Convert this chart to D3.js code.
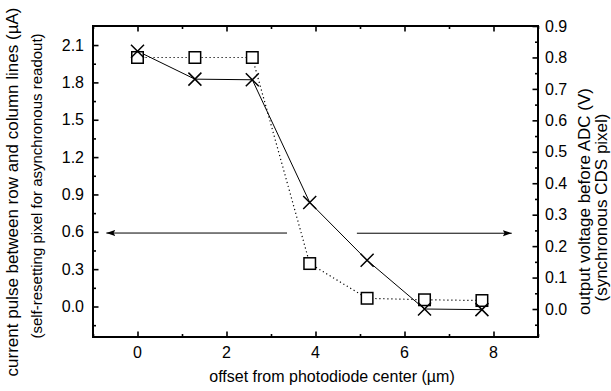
<!DOCTYPE html>
<html><head><meta charset="utf-8">
<script src="https://cdn.jsdelivr.net/npm/d3@7"></script>
<style>body{margin:0;background:#fff}svg{display:block}text{font-family:"Liberation Sans",Arial,sans-serif;fill:#000}</style>
</head><body><svg id="c" width="611" height="391"></svg>
<script>
const xVals = [0, 1.29, 2.58, 3.87, 5.16, 6.45, 7.74];
const currentVals = [2.0, 2.0, 2.0, 0.345, 0.066, 0.054, 0.048]; // squares, left axis (µA)
const voltageVals = [0.82, 0.731, 0.729, 0.339, 0.155, 0.0, -0.002]; // crosses, right axis (V)
const xTicks = [0, 2, 4, 6, 8];
const leftTicks = [0, 0.3, 0.6, 0.9, 1.2, 1.5, 1.8, 2.1];
const rightTicks = [0, 0.1, 0.2, 0.3, 0.4, 0.5, 0.6, 0.7, 0.8, 0.9];
const leftArrow = {y: 0.59, x0: 3.36, x1: -0.70};   // left-axis units
const rightArrow = {y: 0.241, x0: 4.93, x1: 8.41};  // right-axis units

const L = 93, R = 538, T = 26, B = 337;
const svg = d3.select("#c");
const x = d3.scaleLinear().domain([-1, 9]).range([L, R]);
const yL = d3.scaleLinear().domain([-0.245, 2.253]).range([B, T]);
const yR = d3.scaleLinear().domain([-0.089, 0.9]).range([B, T]);

svg.append("defs").append("marker").attr("id","ah").attr("viewBox","0 0 10 10")
  .attr("refX",10).attr("refY",5).attr("markerWidth",9).attr("markerHeight",9)
  .attr("markerUnits","userSpaceOnUse").attr("orient","auto")
  .append("path").attr("d","M0,1.5L10,5L0,8.5L2,5Z").attr("fill","#000");

const range = (a,b,s)=>d3.range(a,b+1e-9,s);
function ax(gen, tr, major, minor){
  const g = svg.append("g").attr("transform", tr);
  g.call(gen.tickValues(minor).tickSize(3).tickFormat(""));
  g.selectAll(".domain").remove();
  const g2 = svg.append("g").attr("transform", tr);
  g2.call(gen.tickValues(major).tickSize(5.5).tickFormat(""));
  g2.selectAll(".domain").remove();
  svg.selectAll("g .tick line").attr("stroke","#000").attr("stroke-width",1.6);
  return g2;
}
const FS = "16px";
// bottom & top
const xMinor = range(-1, 9, 1).filter(v=>v%2!==0);
ax(d3.axisTop(x), `translate(0,${B})`, xTicks, xMinor);
ax(d3.axisBottom(x), `translate(0,${T})`, xTicks, xMinor);
svg.append("g").selectAll("text").data(xTicks).join("text")
  .attr("x", d=>x(d)).attr("y", B+21).attr("text-anchor","middle").style("font-size",FS).text(d3.format("d"));
// left
const lMinor = range(-0.15, 2.0, 0.3);
ax(d3.axisRight(yL), `translate(${L},0)`, leftTicks, lMinor);
svg.append("g").selectAll("text").data(leftTicks).join("text")
  .attr("x", L-9).attr("y", d=>yL(d)+5.7).attr("text-anchor","end").style("font-size",FS).text(d3.format(".1f"));
// right
const rMinor = range(-0.05, 0.86, 0.1);
ax(d3.axisLeft(yR), `translate(${R},0)`, rightTicks, rMinor);
svg.append("g").selectAll("text").data(rightTicks).join("text")
  .attr("x", R+7).attr("y", d=>yR(d)+5.7).attr("text-anchor","start").style("font-size",FS).text(d3.format(".1f"));

// frame
svg.append("rect").attr("x",L).attr("y",T).attr("width",R-L).attr("height",B-T)
  .attr("fill","none").attr("stroke","#000").attr("stroke-width",2);

// lines
const pts = xVals.map((v,i)=>({x:v, c:currentVals[i], v:voltageVals[i]}));
svg.append("path").datum(pts).attr("fill","none").attr("stroke","#000").attr("stroke-width",1.2)
  .attr("stroke-dasharray","1.2,2.8")
  .attr("d", d3.line().x(d=>x(d.x)).y(d=>yL(d.c)));
svg.append("path").datum(pts).attr("fill","none").attr("stroke","#000").attr("stroke-width",1)
  .attr("d", d3.line().x(d=>x(d.x)).y(d=>yR(d.v)));

// squares
const s = 11.5;
svg.append("g").selectAll("rect").data(pts).join("rect")
  .attr("x", d=>x(d.x)-s/2).attr("y", d=>yL(d.c)-s/2).attr("width",s).attr("height",s)
  .attr("fill","#fff").attr("stroke","#000").attr("stroke-width",1.5);
// crosses
const h = 6.5;
svg.append("g").selectAll("path").data(pts).join("path")
  .attr("d", d=>{const cx=x(d.x), cy=yR(d.v);
    return `M${cx-h},${cy-h}L${cx+h},${cy+h}M${cx-h},${cy+h}L${cx+h},${cy-h}`;})
  .attr("stroke","#000").attr("stroke-width",1.5).attr("fill","none");

// arrows
svg.append("line").attr("x1",x(leftArrow.x0)).attr("x2",x(leftArrow.x1))
  .attr("y1",yL(leftArrow.y)).attr("y2",yL(leftArrow.y))
  .attr("stroke","#000").attr("stroke-width",1).attr("marker-end","url(#ah)");
svg.append("line").attr("x1",x(rightArrow.x0)).attr("x2",x(rightArrow.x1))
  .attr("y1",yR(rightArrow.y)).attr("y2",yR(rightArrow.y))
  .attr("stroke","#000").attr("stroke-width",1).attr("marker-end","url(#ah)");

// titles
svg.append("text").attr("x",332).attr("y",382).attr("text-anchor","middle")
  .style("font-size","16px").text("offset from photodiode center (\u00b5m)");
svg.append("text").attr("transform","translate(18,192) rotate(-90)").attr("text-anchor","middle")
  .style("font-size","17px").text("current pulse between row and column lines (\u00b5A)");
svg.append("text").attr("transform","translate(42,186) rotate(-90)").attr("text-anchor","middle")
  .style("font-size","15px").text("(self-resetting pixel for asynchronous readout)");
svg.append("text").attr("transform","translate(589.5,201.5) rotate(-90)").attr("text-anchor","middle")
  .style("font-size","17px").text("output voltage before ADC (V)");
svg.append("text").attr("transform","translate(606.5,207.5) rotate(-90)").attr("text-anchor","middle")
  .style("font-size","17px").text("(synchronous CDS pixel)");
</script></body></html>
